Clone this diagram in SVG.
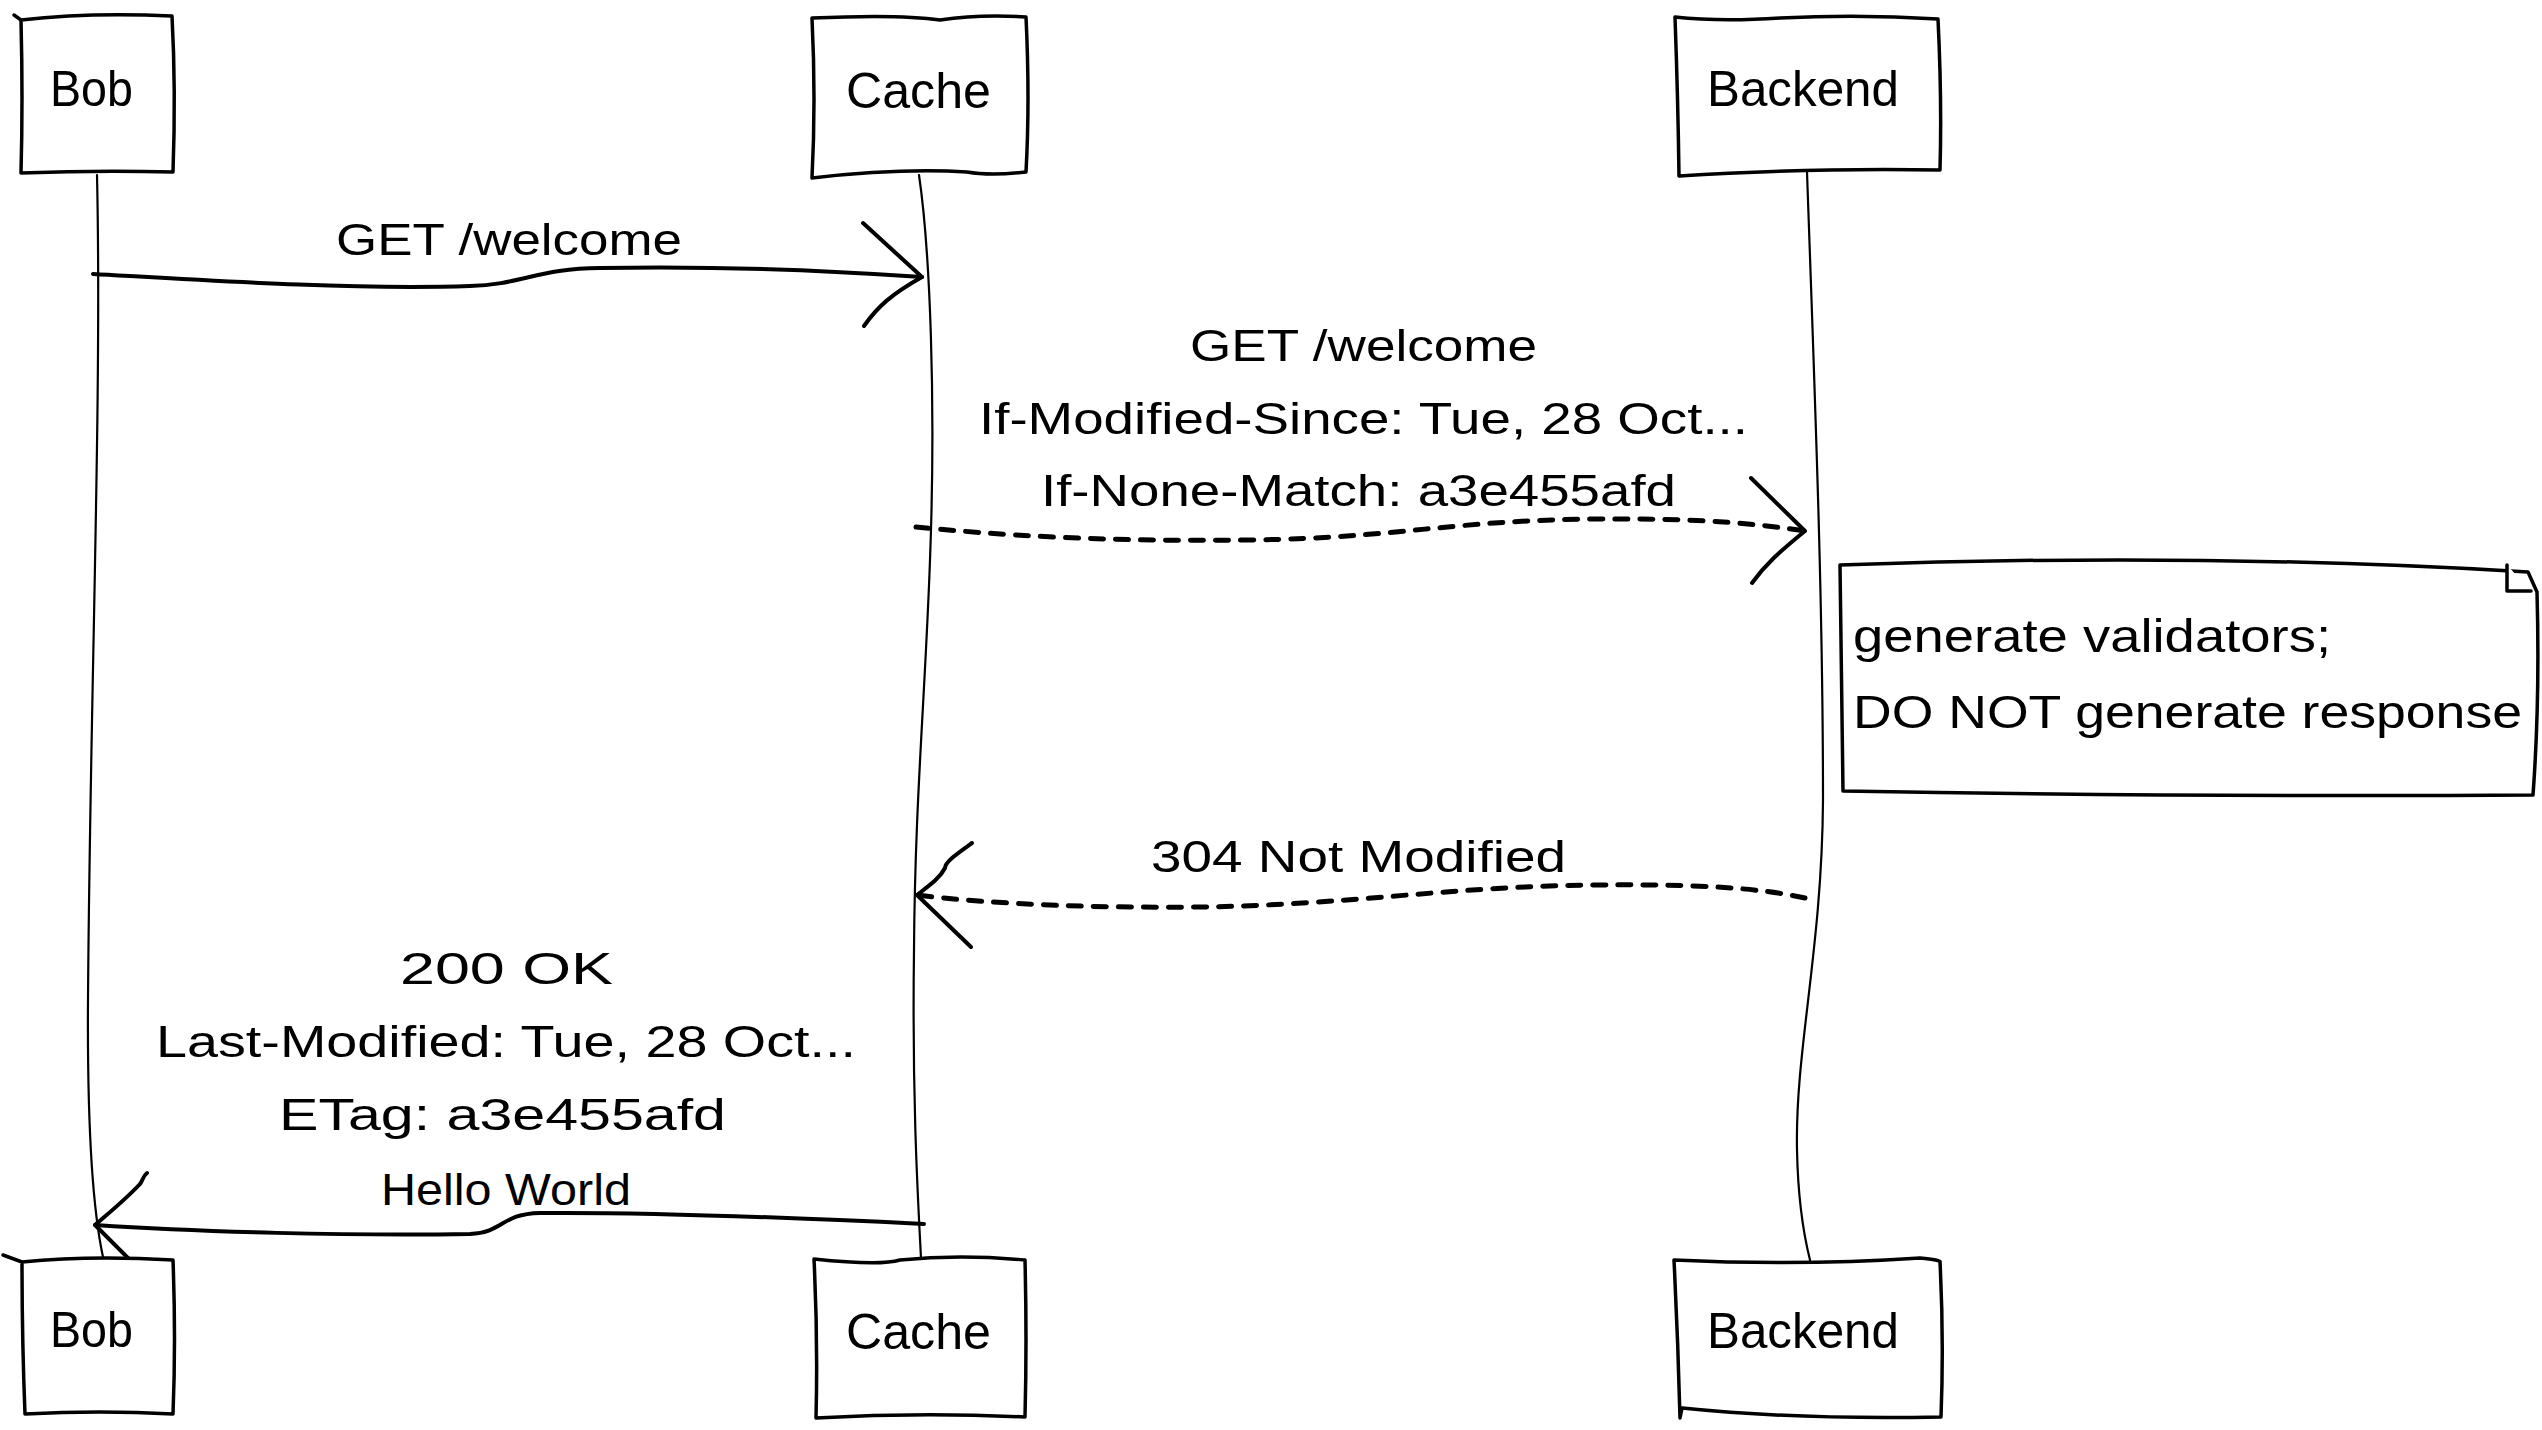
<svg xmlns="http://www.w3.org/2000/svg" width="2542" height="1430" viewBox="0 0 2542 1430">
<style>
.box{fill:#fff;stroke:#000;stroke-width:3.5;stroke-linejoin:round;stroke-linecap:round}
.life{fill:none;stroke:#000;stroke-width:2.2;stroke-linecap:round}
.msg{fill:none;stroke:#000;stroke-width:4;stroke-linecap:round;stroke-linejoin:round}
.dash{stroke-width:5;stroke-dasharray:13 12}
.t{font-family:"Liberation Sans",Arial,sans-serif;fill:#000}
.n{font-size:50px}
.m{font-size:44px}
.nt{font-size:46px}
</style>
<rect width="2542" height="1430" fill="#fff"/>
<g id="connectors">
  <path class="life" d="M97 175 C102 400 90 700 88 1000 C87 1150 95 1220 103 1257"/>
  <path class="life" d="M919 175 C930 250 936 400 930 560 C925 700 915 800 914 950 C912 1100 918 1200 921 1258"/>
  <path class="life" d="M1807 172 C1815 400 1823 600 1823 800 C1822 950 1795 1050 1797 1150 C1798 1200 1805 1240 1810 1260"/>
  <g id="msg-get">
    <path class="msg" d="M93 274 C200 280 350 290 470 286 C520 285 540 268 600 268 C700 266 820 270 922 277"/>
    <path class="msg" d="M863 223 L922 277 M864 326 C878 306 892 294 922 277"/>
  </g>
  <g id="msg-conditional">
    <path class="msg dash" d="M916 527 C1000 535 1100 542 1250 540 C1400 538 1450 520 1600 519 C1700 518 1760 524 1805 531"/>
    <path class="msg" d="M1751 478 L1805 531 M1752 583 C1765 565 1778 553 1805 531"/>
  </g>
  <g id="msg-304">
    <path class="msg dash" d="M1805 898 C1760 888 1700 884 1600 885 C1450 886 1350 905 1200 907 C1100 908 1000 905 917 895"/>
    <path class="msg" d="M972 843 C958 853 945 862 945 868 C940 878 930 885 917 895 L971 947"/>
  </g>
  <g id="msg-200">
    <path class="msg" d="M924 1224 C800 1218 650 1212 540 1213 C500 1214 505 1232 470 1234 C350 1236 200 1232 95 1225"/>
    <path class="msg" d="M147 1173 C143 1176 143 1180 140 1184 C125 1200 110 1212 95 1225 L147 1277"/>
  </g>
  <text class="t m" x="336" y="255" textLength="346" lengthAdjust="spacingAndGlyphs">GET /welcome</text>
  <text class="t m" x="1190" y="361" textLength="347" lengthAdjust="spacingAndGlyphs">GET /welcome</text>
  <text class="t m" x="979" y="434" textLength="769" lengthAdjust="spacingAndGlyphs">If-Modified-Since: Tue, 28 Oct...</text>
  <text class="t m" x="1041" y="506" textLength="635" lengthAdjust="spacingAndGlyphs">If-None-Match: a3e455afd</text>
  <text class="t m" x="1151" y="872" textLength="415" lengthAdjust="spacingAndGlyphs">304 Not Modified</text>
  <text class="t m" x="400" y="984" textLength="213" lengthAdjust="spacingAndGlyphs">200 OK</text>
  <text class="t m" x="156" y="1057" textLength="700" lengthAdjust="spacingAndGlyphs">Last-Modified: Tue, 28 Oct...</text>
  <text class="t m" x="279" y="1130" textLength="447" lengthAdjust="spacingAndGlyphs">ETag: a3e455afd</text>
  <text class="t m" x="381" y="1205" textLength="250" lengthAdjust="spacingAndGlyphs">Hello World</text>
</g>
<g id="bob-top">
  <path class="box" d="M14 15 L21 20 Q90 12 172 16 Q176 90 173 172 Q100 170 21 173 Q23 100 21 20"/>
  <text class="t n" x="50" y="106" textLength="83" lengthAdjust="spacingAndGlyphs">Bob</text>
</g>
<g id="cache-top">
  <path class="box" d="M812 18 Q900 14 940 20 Q980 14 1026 17 Q1030 100 1026 172 Q990 176 967 172 Q900 168 812 178 Q816 100 812 18 Z"/>
  <text class="t n" x="846" y="108" textLength="145" lengthAdjust="spacingAndGlyphs">Cache</text>
</g>
<g id="backend-top">
  <path class="box" d="M1675 17 Q1720 22 1780 18 Q1860 14 1938 19 Q1942 100 1940 170 Q1800 168 1679 176 Q1678 100 1675 17 Z"/>
  <text class="t n" x="1707" y="106" textLength="192" lengthAdjust="spacingAndGlyphs">Backend</text>
</g>
<g id="note">
  <path class="box" d="M1840 565 Q2200 552 2528 572 L2537 592 Q2540 700 2533 795 Q2200 797 1843 791 Q1842 680 1840 565 Z"/>
  <path class="box" d="M2507 565 L2507 591 L2531 591" fill="none"/>
  <text class="t nt" x="1853" y="652" textLength="478" lengthAdjust="spacingAndGlyphs">generate validators;</text>
  <text class="t nt" x="1853" y="728" textLength="669" lengthAdjust="spacingAndGlyphs">DO NOT generate response</text>
</g>
<g id="bob-bottom">
  <path class="box" d="M3 1255 L22 1262 Q90 1255 173 1260 Q176 1340 173 1414 Q100 1410 25 1414 Q22 1340 22 1262"/>
  <text class="t n" x="50" y="1347" textLength="83" lengthAdjust="spacingAndGlyphs">Bob</text>
</g>
<g id="cache-bottom">
  <path class="box" d="M814 1259 Q880 1266 900 1260 Q960 1254 1025 1260 Q1027 1340 1025 1417 Q920 1412 816 1418 Q818 1340 814 1259 Z"/>
  <text class="t n" x="846" y="1349" textLength="145" lengthAdjust="spacingAndGlyphs">Cache</text>
</g>
<g id="backend-bottom">
  <path class="box" d="M1674 1260 Q1800 1266 1920 1258 Q1941 1260 1940 1262 Q1944 1340 1941 1417 Q1800 1420 1682 1408 L1680 1418 Q1678 1340 1674 1260 Z"/>
  <text class="t n" x="1707" y="1348" textLength="192" lengthAdjust="spacingAndGlyphs">Backend</text>
</g>
</svg>
